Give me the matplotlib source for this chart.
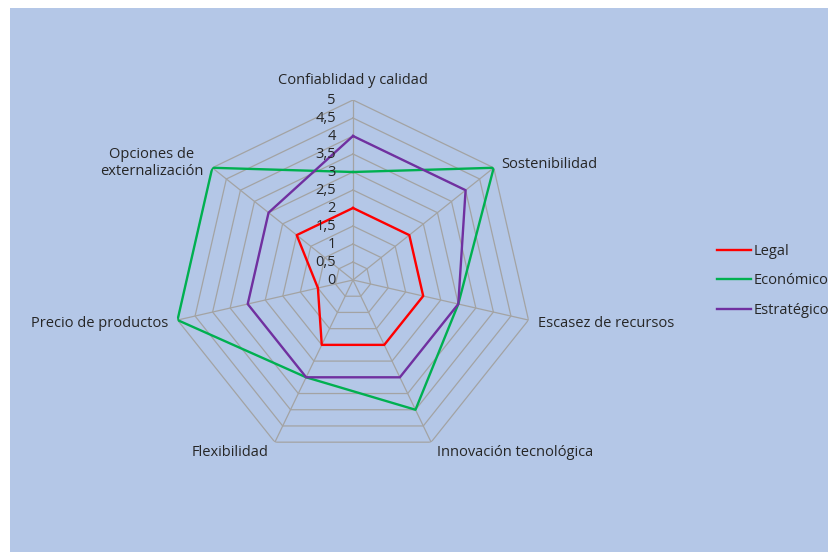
import numpy as np
import matplotlib
matplotlib.use("Agg")
import matplotlib.pyplot as plt
from matplotlib.patches import Rectangle
from matplotlib.lines import Line2D

categories = ["Confiablidad y calidad", "Sostenibilidad", "Escasez de recursos",
              "Innovación tecnológica", "Flexibilidad", "Precio de productos",
              "Opciones de\nexternalización"]
legal = [2, 2, 2, 2, 2, 1, 2]
economico = [3, 5, 3, 4, 3, 5, 5]
estrategico = [4, 4, 3, 3, 3, 3, 3]
series_names = ["Legal", "Económico", "Estratégico"]
series_colors = ["#FF0000", "#00B050", "#7030A0"]
levels = [0, 0.5, 1, 1.5, 2, 2.5, 3, 3.5, 4, 4.5, 5]
level_labels = ["0", "0,5", "1", "1,5", "2", "2,5", "3", "3,5", "4", "4,5", "5"]

plt.rcParams['font.family'] = ['Open Sans', 'DejaVu Sans']
W, H = 829, 552
fig = plt.figure(figsize=(W/100, H/100), dpi=100)
fig.patch.set_facecolor("white")
fig.add_artist(Rectangle((10/W, 0), 1, 1 - 8/H, transform=fig.transFigure,
                         facecolor="#B4C7E7", edgecolor="none", zorder=0))

cx, cy, R = 353, 280, 180
ax = fig.add_axes([(cx - R)/W, (H - cy - R)/H, 2*R/W, 2*R/H], projection="polar")
ax.set_facecolor("none")
ax.set_theta_offset(np.pi/2)
ax.set_theta_direction(-1)
ax.set_ylim(0, 5)
ax.grid(False)
ax.spines['polar'].set_visible(False)
ax.set_xticks([])
ax.set_yticks([])

n = len(categories)
angles = np.arange(n) * 2*np.pi/n
closed = np.append(angles, angles[0])
gc = "#A3A3A3"
for lv in levels[1:]:
    ax.plot(closed, [lv]*(n+1), color=gc, lw=0.9, zorder=1)
for a in angles:
    ax.plot([a, a], [0, 5], color=gc, lw=0.9, zorder=1)

for vals, name, col in zip([legal, economico, estrategico], series_names, series_colors):
    ax.plot(closed, list(vals) + [vals[0]], color=col, lw=1.7, label=name, zorder=3)

fs = 10.5
for lv, lab in zip(levels, level_labels):
    ax.annotate(lab, xy=(0, lv), xytext=(-17, 0), textcoords="offset pixels",
                ha="right", va="center", fontsize=fs, color="#262626", zorder=4)

# category labels
offsets = [(0, 20, "center", "center"), (8, 3, "left", "center"),
           (10, -3, "left", "center"), (6, -10, "left", "center"),
           (-6, -10, "right", "center"), (-9, -3, "right", "center"),
           (-9, 5, "right", "center")]
for a, lab, (dx, dy, ha, va) in zip(angles, categories, offsets):
    ax.annotate(lab, xy=(a, 5), xytext=(dx, dy), textcoords="offset pixels",
                ha=ha, va=va, fontsize=fs, color="#262626", multialignment="center",
                linespacing=1.2)

handles = [Line2D([], [], color=c, lw=1.7) for c in series_colors]
fig.legend(handles, series_names, loc="center left",
           bbox_to_anchor=(717/W, 1 - 281/H), frameon=False, fontsize=fs,
           handlelength=2.35, handletextpad=0.15, labelspacing=1.0,
           borderpad=0, borderaxespad=0, labelcolor="#262626")

fig.savefig("out.png", dpi=100, facecolor="white")
